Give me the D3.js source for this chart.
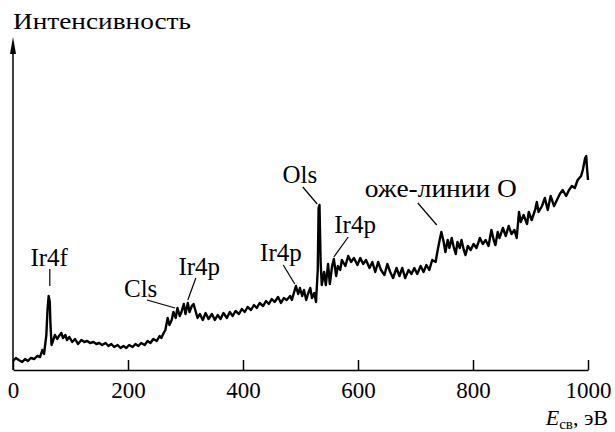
<!DOCTYPE html>
<html>
<head>
<meta charset="utf-8">
<script src="https://cdn.jsdelivr.net/npm/d3@7"></script>
<style>
    body { margin: 0; background: #fff; }
    svg { display: block; }
    text { font-family: "Liberation Serif", "Times New Roman", serif; fill: #000; }
    .axis-line { stroke: #000; stroke-width: 1.5; fill: none; }
    .spectrum { stroke: #000; stroke-width: 2.4; fill: none; stroke-linejoin: round; }
    .leader { stroke: #000; stroke-width: 1.2; }
</style>
</head>
<body>
<svg id="chart"></svg>
<script>
// Binding energy, eV
const energy = [
    0, 5, 10, 16, 21, 26, 31, 37, 42, 47, 51, 54, 58, 60, 62, 64, 65, 67, 70, 73,
    77, 80, 84, 87, 91, 94, 98, 103, 108, 113, 119, 124, 129, 134, 140, 145, 150, 155, 161, 166,
    171, 176, 182, 187, 192, 197, 202, 208, 213, 218, 223, 229, 234, 239, 244, 250, 255, 258, 262, 265,
    269, 272, 276, 279, 283, 286, 290, 293, 297, 300, 304, 307, 311, 314, 318, 321, 325, 330, 335, 340,
    346, 351, 356, 361, 366, 372, 377, 382, 387, 393, 398, 403, 408, 414, 419, 424, 429, 435, 440, 445,
    450, 455, 461, 466, 471, 476, 482, 485, 489, 492, 496, 499, 503, 506, 510, 513, 517, 520, 524, 527,
    530, 531.5, 533, 535, 537, 541, 544, 548, 551, 555, 558, 562, 565, 569, 572, 578, 583, 588, 593, 599,
    604, 609, 614, 620, 625, 630, 635, 640, 646, 651, 656, 661, 667, 672, 677, 682, 688, 693, 698, 703,
    709, 714, 719, 724, 729, 735, 738, 742, 745, 749, 752, 756, 759, 763, 766, 770, 773, 777, 780, 784,
    787, 791, 796, 801, 806, 812, 817, 822, 827, 832, 836, 839, 843, 846, 852, 857, 862, 867, 872, 876,
    880, 883, 888, 894, 897, 902, 908, 911, 914, 920, 925, 930, 935, 941, 946, 951, 956, 962, 967, 972,
    977, 982, 988, 991, 995, 997, 998, 1000
];

// Intensity, arbitrary units
const intensity = [
    9, 12, 10, 8, 11, 9, 12, 11, 14, 13, 20, 16, 35, 60, 74, 68, 48, 25, 30, 35,
    31, 34, 37, 32, 35, 30, 33, 28, 31, 26, 30, 28, 29, 27, 28, 26, 27, 25, 27, 24,
    26, 23, 25, 22, 24, 22, 25, 23, 26, 24, 27, 25, 29, 27, 31, 29, 34, 32, 37, 40,
    52, 45, 50, 58, 52, 62, 54, 58, 66, 56, 67, 58, 64, 66, 58, 52, 56, 50, 57, 51,
    56, 50, 55, 51, 57, 52, 58, 54, 59, 56, 61, 58, 63, 60, 65, 62, 67, 64, 69, 66,
    71, 68, 73, 67, 72, 70, 74, 70, 78, 84, 76, 82, 74, 80, 70, 76, 82, 72, 77, 68,
    100, 162, 165, 108, 85, 98, 85, 106, 86, 104, 111, 94, 104, 100, 110, 104, 114, 108, 112, 105,
    112, 106, 110, 102, 108, 98, 108, 100, 95, 106, 98, 92, 102, 94, 102, 92, 100, 96, 102, 96,
    104, 98, 105, 100, 110, 108, 118, 130, 138, 128, 118, 130, 122, 132, 124, 116, 128, 122, 130, 120,
    115, 124, 120, 126, 122, 132, 126, 130, 124, 140, 130, 125, 138, 132, 142, 134, 144, 136, 140, 132,
    158, 148, 155, 146, 158, 150, 160, 168, 158, 164, 172, 160, 174, 164, 170, 176, 180, 174, 180, 184,
    182, 190, 194, 200, 212, 214, 204, 190
];

const xTicks = [0, 200, 400, 600, 800, 1000];

// Peak labels: text, label anchor (E, I), leader line from (E, I) to (E, I)
const peakNames = ["Ir4f", "Cls", "Ir4p", "Ir4p", "Ols", "Ir4p", "оже-линии О"];
const labelE = [63, 222, 324, 466, 499, 595, 744];
const labelI = [104, 73, 95, 109, 187, 137, 173];
const leaderFrom = [[64, 101], [233, 70], [318, 92], [470, 105], [504, 183], [583, 133], [704, 167]];
const leaderTo = [[64, 84], [282, 62], [304, 70], [490, 86], [529, 166], [558, 113], [737, 145]];

const W = 615, H = 432;
const svg = d3.select("#chart").attr("width", W).attr("height", H);

const x = d3.scaleLinear().domain([0, 1000]).range([13, 588]);
const y = d3.scaleLinear().domain([0, 333]).range([370, 37]);

// X axis: ticks pointing up into the plot
const xAxis = d3.axisBottom(x)
    .tickValues(xTicks)
    .tickSizeInner(-10)
    .tickSizeOuter(0)
    .tickPadding(12)
    .tickFormat(d3.format("d"));

const gx = svg.append("g")
    .attr("transform", `translate(0,${y(0)})`)
    .call(xAxis);
gx.select(".domain").attr("stroke-width", 1.5);
gx.selectAll(".tick line").attr("stroke-width", 1.5);
gx.selectAll(".tick text")
    .attr("font-family", "Liberation Serif, Times New Roman, serif")
    .attr("font-size", 23)
    .attr("fill", "#000");

// Y axis: plain line with an arrow, no ticks
svg.append("line")
    .attr("class", "axis-line")
    .attr("x1", x(0)).attr("x2", x(0))
    .attr("y1", y(0)).attr("y2", y(322));
svg.append("path")
    .attr("d", `M${x(0)},${y(333)} L${x(0) - 3},${y(316)} L${x(0) + 3},${y(316)} Z`)
    .attr("fill", "#000");

svg.append("text")
    .attr("x", x(0))
    .attr("y", 29)
    .attr("font-size", 23)
    .attr("textLength", 178)
    .attr("lengthAdjust", "spacingAndGlyphs")
    .text("Интенсивность");

// Axis title
const xt = svg.append("text")
    .attr("x", 608)
    .attr("y", 425)
    .attr("text-anchor", "end")
    .attr("font-size", 22);
xt.append("tspan").attr("font-style", "italic").text("E");
xt.append("tspan").attr("font-size", 15).attr("dy", 4).text("св");
xt.append("tspan").attr("dy", -4).text(", эВ");

// The spectrum
const line = d3.line()
    .x((d, i) => x(energy[i]))
    .y(d => y(d));
svg.append("path")
    .datum(intensity)
    .attr("class", "spectrum")
    .attr("d", line);

// Peak annotations
peakNames.forEach((name, i) => {
    svg.append("line")
        .attr("class", "leader")
        .attr("x1", x(leaderFrom[i][0])).attr("y1", y(leaderFrom[i][1]))
        .attr("x2", x(leaderTo[i][0])).attr("y2", y(leaderTo[i][1]));
    const t = svg.append("text")
        .attr("x", x(labelE[i]))
        .attr("y", y(labelI[i]))
        .attr("text-anchor", "middle")
        .attr("font-size", 25)
        .text(name);
    if (name.length > 5) t.attr("textLength", 152).attr("lengthAdjust", "spacingAndGlyphs");
});
</script>
</body>
</html>
